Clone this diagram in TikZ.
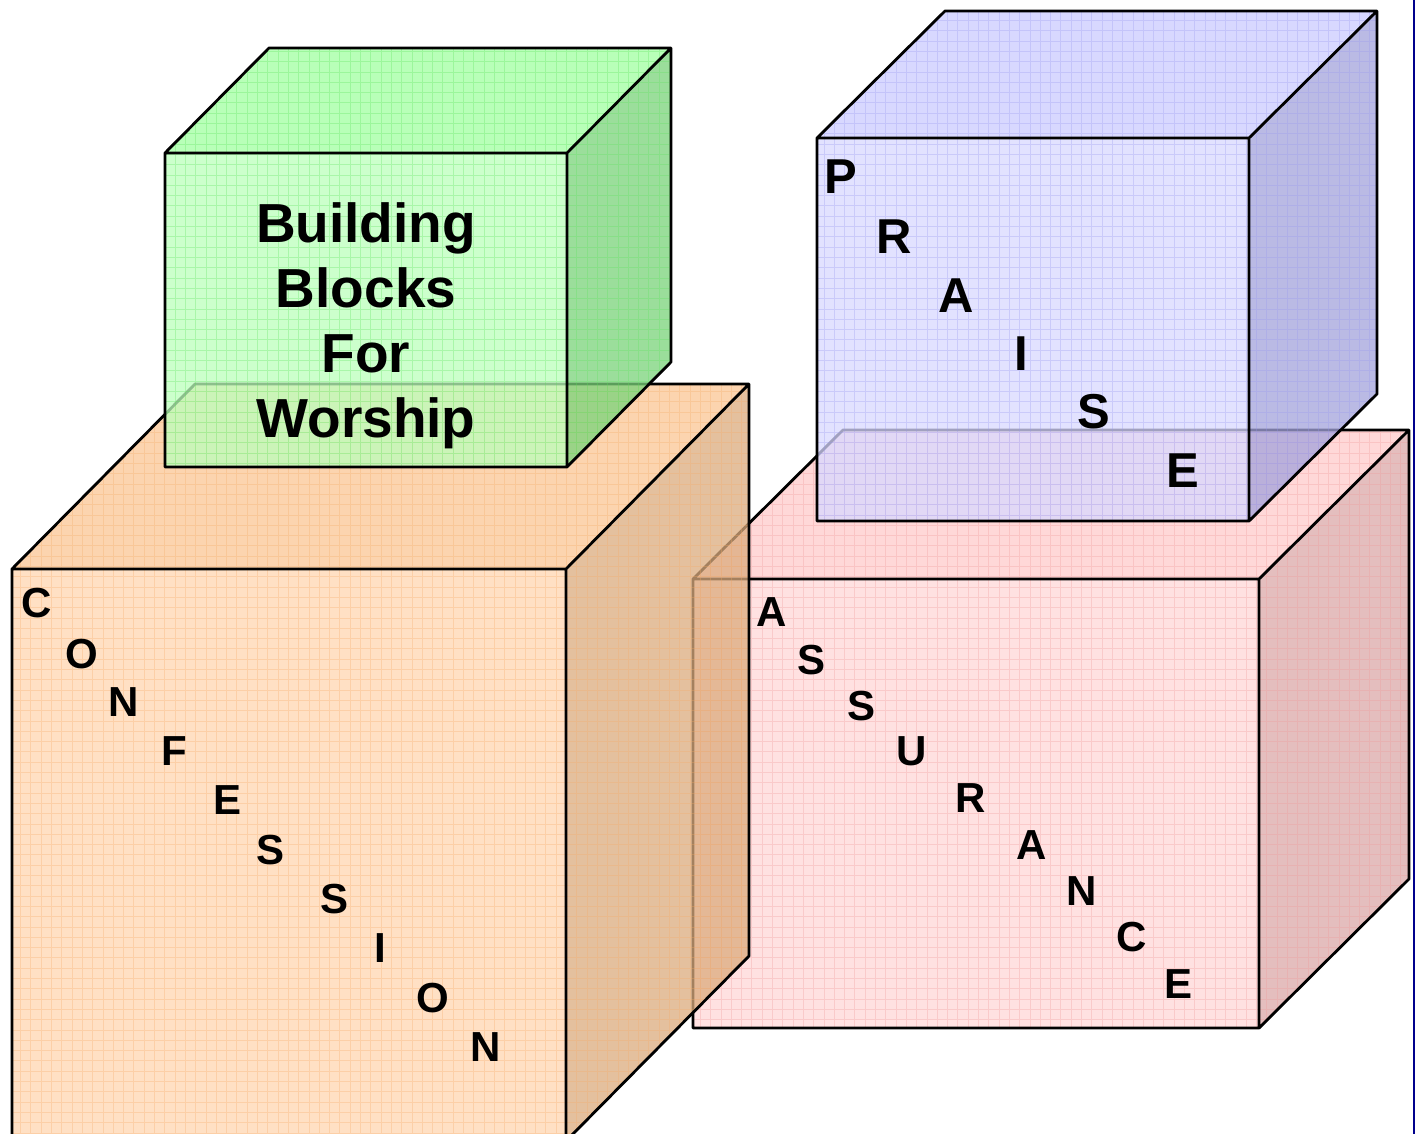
\documentclass[tikz,border=0pt]{standalone}
\usepackage{fontspec}
\setmainfont{Liberation Sans}

% block colours (front, top, side, grid)
\definecolor{conffront}{RGB}{255,214,176}
\definecolor{conftop}{RGB}{251,198,148}
\definecolor{confside}{RGB}{219,171,126}
\definecolor{confgrid}{RGB}{245,170,100}
\definecolor{buildfront}{RGB}{187,255,187}
\definecolor{buildtop}{RGB}{160,255,160}
\definecolor{buildside}{RGB}{122,211,122}
\definecolor{buildgrid}{RGB}{90,225,90}
\definecolor{praisefront}{RGB}{216,216,255}
\definecolor{praisetop}{RGB}{203,203,255}
\definecolor{praiseside}{RGB}{163,163,219}
\definecolor{praisegrid}{RGB}{150,150,240}
\definecolor{assurfront}{RGB}{255,215,215}
\definecolor{assurtop}{RGB}{255,203,203}
\definecolor{assurside}{RGB}{219,168,168}
\definecolor{assurgrid}{RGB}{240,150,150}

\tikzset{
  blockedge/.style={draw=black, line width=2.8pt, line join=round},
  blockletter/.style={inner sep=0pt, font=\fontsize{42}{42}\selectfont\bfseries},
  praiseletter/.style={inner sep=0pt, font=\fontsize{49}{49}\selectfont\bfseries},
  titletext/.style={inner sep=0pt, align=center, font=\fontsize{55}{65}\selectfont\bfseries}
}

% one face: see-through fill with a grid on it
\newcommand{\blockface}[3]{%
  \begin{scope}
    \fill[#1, fill opacity=0.75] #3;
    \clip #3;
    \begin{scope}[y=1pt]
      \draw[#2, opacity=0.3, line width=1pt] (0,-1134) grid[step=10.3] (1417,0);
    \end{scope}
  \end{scope}}

% block: colour prefix, front x1, y1, x2, y2, depth dx, dy
\newcommand{\drawblock}[7]{%
  \blockface{#1front}{#1grid}{(#2,#3) rectangle (#4,#5)}
  \blockface{#1top}{#1grid}{(#2,#3) -- (#2+#6,#3-#7) -- (#4+#6,#3-#7) -- (#4,#3) -- cycle}
  \blockface{#1side}{#1grid}{(#4,#3) -- (#4+#6,#3-#7) -- (#4+#6,#5-#7) -- (#4,#5) -- cycle}
  \draw[blockedge] (#2,#5) -- (#2,#3) -- (#2+#6,#3-#7) -- (#4+#6,#3-#7) -- (#4+#6,#5-#7) -- (#4,#5) -- cycle
    (#2,#3) -- (#4,#3) -- (#4+#6,#3-#7) (#4,#3) -- (#4,#5);}

\begin{document}
\begin{tikzpicture}[x=1pt, y=-1pt]
  \useasboundingbox (0,0) rectangle (1417,1134);
  \clip (0,0) rectangle (1417,1134);

  % Blocks
  \drawblock{assur}{693}{579}{1259}{1028}{150}{149}
  \drawblock{praise}{817}{138}{1249}{521}{128}{127}
  \drawblock{conf}{12}{569}{566}{1141}{183}{185}
  \drawblock{build}{165}{153}{567}{467}{104}{105}

  % Page edge
  \draw[blue!55!black, line width=1.5pt] (1414,0) -- (1414,1134);

  % Title
  \node[titletext, anchor=north] (title) at (366,202) {Building\\Blocks\\For\\Worship};

  % Letters
  \foreach \ch/\x/\y [count=\i] in {C/37/603, O/82/654, N/124/702, F/174/751, E/228/800,
      S/271/850, S/335/899, I/380/948, O/433/998, N/486/1047}
    \node[blockletter] (conf-\i) at (\x,\y) {\ch};
  \foreach \ch/\x/\y [count=\i] in {A/772/612, S/811/660, S/861/706, U/912/751, R/971/798,
      A/1032/845, N/1082/891, C/1132/937, E/1178/984}
    \node[blockletter] (assur-\i) at (\x,\y) {\ch};
  \foreach \ch/\x/\y [count=\i] in {P/841/177, R/894/237, A/956/296, I/1021/354,
      S/1094/412, E/1183/471}
    \node[praiseletter] (praise-\i) at (\x,\y) {\ch};
\end{tikzpicture}
\end{document}
